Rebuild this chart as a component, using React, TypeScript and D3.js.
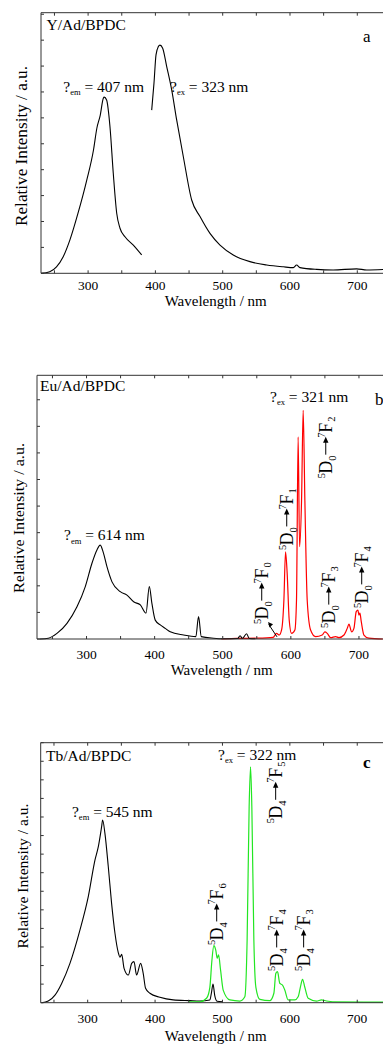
import React from 'react';
import * as d3 from 'd3';

// ---------- Panel a : Y/Ad/BPDC ----------
const aExcWavelength = [230, 243, 253, 263, 273, 285, 298, 308, 313, 318, 322.6, 324, 327.5, 332.5, 337.4, 342.5, 347.4, 354.8, 367.2, 379.6];
const aExcIntensity = [0, 0.06, 0.25, 0.64, 1.29, 2.32, 3.6, 4.76, 5.6, 6.1, 6.76, 6.8, 6.69, 5.66, 3.86, 2.32, 1.74, 1.41, 1.09, 0.71];
const aEmWavelength = [394.5, 397.9, 400.9, 404.3, 406.8, 410.8, 416.8, 424.2, 431.6, 441.5, 453.9, 466.3, 481.1, 496, 515.7, 540.5, 565.4, 590, 605, 609.8, 614.8, 639.6, 664, 699, 714, 740];
const aEmIntensity = [6.3, 7.34, 8.43, 8.75, 8.81, 8.69, 7.98, 7.08, 5.92, 4.5, 2.83, 2.19, 1.54, 1.09, 0.71, 0.45, 0.32, 0.25, 0.22, 0.32, 0.22, 0.15, 0.13, 0.17, 0.13, 0.15];

// ---------- Panel b : Eu/Ad/BPDC ----------
const bExcWavelength = [231.7, 244, 256.6, 271.3, 286, 298.2, 308, 315.3, 320.1, 325, 330, 337.4, 349.6, 359.4, 369.2, 379, 387.3, 392.2, 396, 400.9, 408.3, 415.6, 422.9, 442.5, 460.5, 464.5, 468.5, 486.5, 501, 522, 525.4, 529, 535, 539, 548];
const bExcIntensity = [0, 0.03, 0.21, 0.59, 1.21, 1.97, 2.85, 3.35, 3.53, 3.22, 2.72, 2.15, 1.78, 1.65, 1.4, 1.28, 0.97, 1.97, 1.34, 0.71, 0.53, 0.4, 0.27, 0.15, 0.09, 0.84, 0.09, 0.03, 0.01, 0.02, 0.12, 0.02, 0.2, 0.02, 0.01];
const bEmWavelength = [498, 520, 550, 574, 579, 582.9, 586.4, 589.8, 592.2, 594.6, 597.6, 601, 605.9, 608.3, 610.7, 612.8, 615.7, 618.1, 620.6, 624, 629, 636.3, 646, 650, 653.5, 658.4, 665.7, 670.6, 678, 682.8, 685.3, 689.2, 692.6, 696, 698.5, 700, 701.4, 703.4, 707.3, 714.6, 735];
const bEmIntensity = [0, 0.02, 0.03, 0.06, 0.21, 0.15, 0.34, 1.47, 3.28, 2.47, 0.71, 0.21, 0.34, 1.47, 7.6, 3.47, 5.2, 8.6, 5.2, 1.47, 0.34, 0.09, 0.15, 0.27, 0.21, 0.05, 0.09, 0.05, 0.15, 0.4, 0.56, 0.27, 0.4, 1.03, 1.09, 0.9, 0.97, 0.65, 0.15, 0.03, 0];

// ---------- Panel c : Tb/Ad/BPDC ----------
const cExcWavelength = [231.7, 241.5, 251.5, 261.4, 273.7, 288.5, 300.9, 310.8, 315.8, 320.7, 322.2, 325.6, 330.6, 335.5, 340.5, 345.4, 348, 350.5, 354, 360.3, 365.3, 368.7, 372.6, 378.6, 382.4, 385.9, 392.3, 407.1, 426.9, 451.6, 466.5, 481.3, 483.5, 486, 488.5, 492, 500];
const cExcIntensity = [0, 0.09, 0.41, 1.04, 2.12, 3.91, 5.71, 7.68, 8.4, 9.48, 9.84, 9.12, 7.32, 5.35, 3.74, 2.7, 2.45, 2.6, 1.85, 1.49, 2.12, 2.21, 1.49, 2.12, 1.58, 0.78, 0.51, 0.29, 0.15, 0.11, 0.09, 0.15, 0.5, 1.0, 0.4, 0.08, 0.05];
const cEmWavelength = [450, 466.5, 476.4, 481.3, 484.3, 487.2, 490.2, 492.2, 494.2, 497.2, 501.1, 511, 525.8, 533.2, 536.6, 539.6, 541.7, 543.6, 546.6, 549.6, 555.5, 570.3, 576.3, 579.2, 581.7, 585.1, 589.1, 592.5, 597.4, 607.3, 612.3, 616.3, 618.8, 622.2, 627.2, 639.6, 647, 654.5, 664, 740];
const cEmIntensity = [0.05, 0.05, 0.24, 0.83, 2.26, 3.07, 2.8, 2.39, 2.57, 1.76, 0.68, 0.15, 0.09, 0.32, 3.38, 10.55, 12.7, 10.55, 3.38, 0.83, 0.18, 0.11, 0.51, 1.58, 1.67, 1.04, 0.95, 0.68, 0.15, 0.15, 0.32, 0.95, 1.26, 0.83, 0.24, 0.09, 0.15, 0.09, 0.05, 0.03];

// ---------- Axes ----------
const xMajorTicks = [300, 400, 500, 600, 700];
const xMajorLabels = ['300', '400', '500', '600', '700'];
const xMinorTicks = [250, 350, 450, 550, 650];

// ---------- Transition labels ----------
const bTransitionWl = [566.5, 603.2, 660.5, 664.9, 713.3];
const bTransitionI = [0.56, 3.35, 6.05, 0.41, 1.17];
const bTransitionF = ['0', '1', '2', '3', '4'];
const cTransitionWl = [500.8, 588.3, 589.8, 629.8];
const cTransitionI = [3.11, 9.66, 1.71, 1.71];
const cTransitionF = ['6', '5', '4', '3'];

const FONT = '"Liberation Serif", "Times New Roman", serif';

type Series = { wl: number[]; val: number[]; color: string; width: number };

function zip(a: number[], b: number[]): [number, number][] {
  return a.map((v, i) => [v, b[i]] as [number, number]);
}

function Transition({ sx, sy, d, sub }: { sx: number; sy: number; d: string; sub: string }) {
  return (
    <g transform={`translate(${sx},${sy}) rotate(-90)`} fontFamily={FONT} fill="#000">
      <text x={0} y={-7.5} fontSize={10.5}>5</text>
      <text x={4.5} y={0} fontSize={18}>D</text>
      <text x={17.5} y={4} fontSize={10.5}>{d}</text>
      <line x1={23.5} y1={-6.3} x2={37} y2={-6.3} stroke="#000" strokeWidth={1} />
      <path d="M41.5,-6.3 L35.5,-9 L35.5,-3.6 Z" fill="#000" />
      <text x={40.5} y={-7.5} fontSize={10.5}>7</text>
      <text x={45.5} y={0} fontSize={18}>F</text>
      <text x={56.5} y={3} fontSize={10.5}>{sub}</text>
    </g>
  );
}

function Lambda({ x, y, sub, rest, size }: { x: number; y: number; sub: string; rest: string; size: number }) {
  return (
    <text x={x} y={y} fontFamily={FONT} fontSize={size} fill="#000">
      ?
      <tspan fontSize={8.5} dy={3.5}>{sub}</tspan>
      <tspan fontSize={size} dy={-3.5}>{' = ' + rest}</tspan>
    </text>
  );
}

type PanelProps = {
  left: number; top: number; right: number; bottom: number;
  xDomain: [number, number]; yMax: number; yTickCount: number;
  series: Series[];
  title: string; titleX: number; titleY: number;
  letter: string; letterWl: number; letterI: number; letterBold?: boolean;
  emText: string; emWl: number; emI: number;
  exText: string; exWl: number; exI: number;
  tickBaseline: number; xTitleX: number; xTitleBaseline: number;
  yTitleX: number; yTitleY: number; yTitleLen: number; yTitleSize: number;
  children?: (x: d3.ScaleLinear<number, number>, y: d3.ScaleLinear<number, number>) => React.ReactNode;
};

function Panel(p: PanelProps) {
  const x = d3.scaleLinear().domain(p.xDomain).range([p.left, p.right]);
  const y = d3.scaleLinear().domain([0, p.yMax]).range([p.bottom, p.top]);
  const line = d3.line<[number, number]>().x(d => x(d[0])).y(d => y(d[1])).curve(d3.curveMonotoneX);
  const yTicks = d3.range(0, p.yTickCount + 1);
  const axisColor = '#333';
  return (
    <g>
      {p.series.map((s, i) => (
        <path key={i} d={line(zip(s.wl, s.val)) || ''} fill="none" stroke={s.color} strokeWidth={s.width} strokeLinejoin="round" />
      ))}
      <line x1={p.left} y1={p.top} x2={p.right} y2={p.top} stroke={axisColor} strokeWidth={1} />
      <line x1={p.left} y1={p.bottom} x2={p.right} y2={p.bottom} stroke={axisColor} strokeWidth={1} />
      <line x1={p.left} y1={p.top} x2={p.left} y2={p.bottom} stroke={axisColor} strokeWidth={1} />
      {xMajorTicks.concat(xMinorTicks).map((t, i) => (
        <g key={'xt' + i}>
          <line x1={x(t)} x2={x(t)} y1={p.bottom} y2={p.bottom - 3} stroke={axisColor} />
          <line x1={x(t)} x2={x(t)} y1={p.top} y2={p.top + 3} stroke={axisColor} />
        </g>
      ))}
      {yTicks.map(t => (
        <line key={'yt' + t} x1={p.left} x2={p.left + 3} y1={y(t)} y2={y(t)} stroke={axisColor} />
      ))}
      {xMajorTicks.map((t, i) => (
        <text key={'xl' + i} x={x(t)} y={p.tickBaseline} textAnchor="middle" fontFamily={FONT} fontSize={13.5} fill="#000">
          {xMajorLabels[i]}
        </text>
      ))}
      <text x={p.xTitleX} y={p.xTitleBaseline} textAnchor="middle" fontFamily={FONT} fontSize={15} fill="#000">Wavelength / nm</text>
      <text transform={`translate(${p.yTitleX},${p.yTitleY}) rotate(-90)`} textAnchor="middle" dominantBaseline="central"
        fontFamily={FONT} fontSize={p.yTitleSize} fill="#000" textLength={p.yTitleLen} lengthAdjust="spacingAndGlyphs">
        Relative Intensity / a.u.
      </text>
      <text x={p.titleX} y={p.titleY} fontFamily={FONT} fontSize={15.5} fill="#000">{p.title}</text>
      <text x={x(p.letterWl)} y={y(p.letterI)} fontFamily={FONT} fontSize={17} fontWeight={p.letterBold ? 'bold' : 'normal'} fill="#000">{p.letter}</text>
      <Lambda x={x(p.emWl)} y={y(p.emI)} sub="em" rest={p.emText} size={15.5} />
      <Lambda x={x(p.exWl)} y={y(p.exI)} sub="ex" rest={p.exText} size={15.5} />
      {p.children ? p.children(x, y) : null}
    </g>
  );
}

export default function App() {
  return (
    <div style={{ position: 'absolute', left: 0, top: 0 }}>
      <svg width={383} height={1044} style={{ display: 'block', background: '#fff' }}>
        <rect x={0} y={0} width={383} height={1044} fill="#fff" />
        <Panel
          left={41} top={12.7} right={384.2} bottom={273.3}
          xDomain={[230, 740]} yMax={10.06} yTickCount={10}
          series={[
            { wl: aExcWavelength, val: aExcIntensity, color: '#000', width: 1.1 },
            { wl: aEmWavelength, val: aEmIntensity, color: '#000', width: 1.1 },
          ]}
          title="Y/Ad/BPDC" titleX={46.5} titleY={30}
          letter="a" letterWl={708.4} letterI={8.93}
          emText="407 nm" emWl={263.1} emI={7.01}
          exText="323 nm" exWl={421.7} exI={7.0}
          tickBaseline={289.5} xTitleX={215.7} xTitleBaseline={305.5}
          yTitleX={21.5} yTitleY={146} yTitleLen={160} yTitleSize={16}
        />
        <Panel
          left={37} top={375.3} right={383} bottom={639}
          xDomain={[227.3, 735.3]} yMax={9.92} yTickCount={9}
          series={[
            { wl: bEmWavelength, val: bEmIntensity, color: '#ff0000', width: 1.2 },
            { wl: bExcWavelength, val: bExcIntensity, color: '#000', width: 1.1 },
          ]}
          title="Eu/Ad/BPDC" titleX={40} titleY={390.7}
          letter="b" letterWl={723.6} letterI={8.8}
          emText="614 nm" emWl={267} emI={3.72}
          exText="321 nm" exWl={569.4} exI={8.92}
          tickBaseline={658.5} xTitleX={221.7} xTitleBaseline={675}
          yTitleX={18} yTitleY={518} yTitleLen={150} yTitleSize={15.5}
        >
          {(x, y) => (
            <g>
              {bTransitionWl.map((w, i) => (
                <Transition key={i} sx={x(w)} sy={y(bTransitionI[i])} d="0" sub={bTransitionF[i]} />
              ))}
              <line x1={x(579.7)} y1={y(0.08)} x2={x(567.5)} y2={y(0.55)} stroke="#000" strokeWidth={1} />
              <path d={`M${x(566.5)},${y(0.64)} l1.5,5.5 l3.5,-3.2 Z`} fill="#000" />
            </g>
          )}
        </Panel>
        <Panel
          left={40.7} top={742.7} right={384.2} bottom={1002.7}
          xDomain={[230.3, 740]} yMax={14} yTickCount={14}
          series={[
            { wl: cExcWavelength, val: cExcIntensity, color: '#000', width: 1.1 },
            { wl: cEmWavelength, val: cEmIntensity, color: '#22e622', width: 1.2 },
          ]}
          title="Tb/Ad/BPDC" titleX={46} titleY={761}
          letter="c" letterWl={708.4} letterI={12.64} letterBold={true}
          emText="545 nm" emWl={276.7} emI={10.02}
          exText="322 nm" exWl={493.4} exI={13.07}
          tickBaseline={1022.5} xTitleX={215.7} xTitleBaseline={1040.5}
          yTitleX={22.5} yTitleY={876} yTitleLen={145} yTitleSize={15.5}
        >
          {(x, y) => (
            <g>
              {cTransitionWl.map((w, i) => (
                <Transition key={i} sx={x(w)} sy={y(cTransitionI[i])} d="4" sub={cTransitionF[i]} />
              ))}
            </g>
          )}
        </Panel>
      </svg>
    </div>
  );
}
